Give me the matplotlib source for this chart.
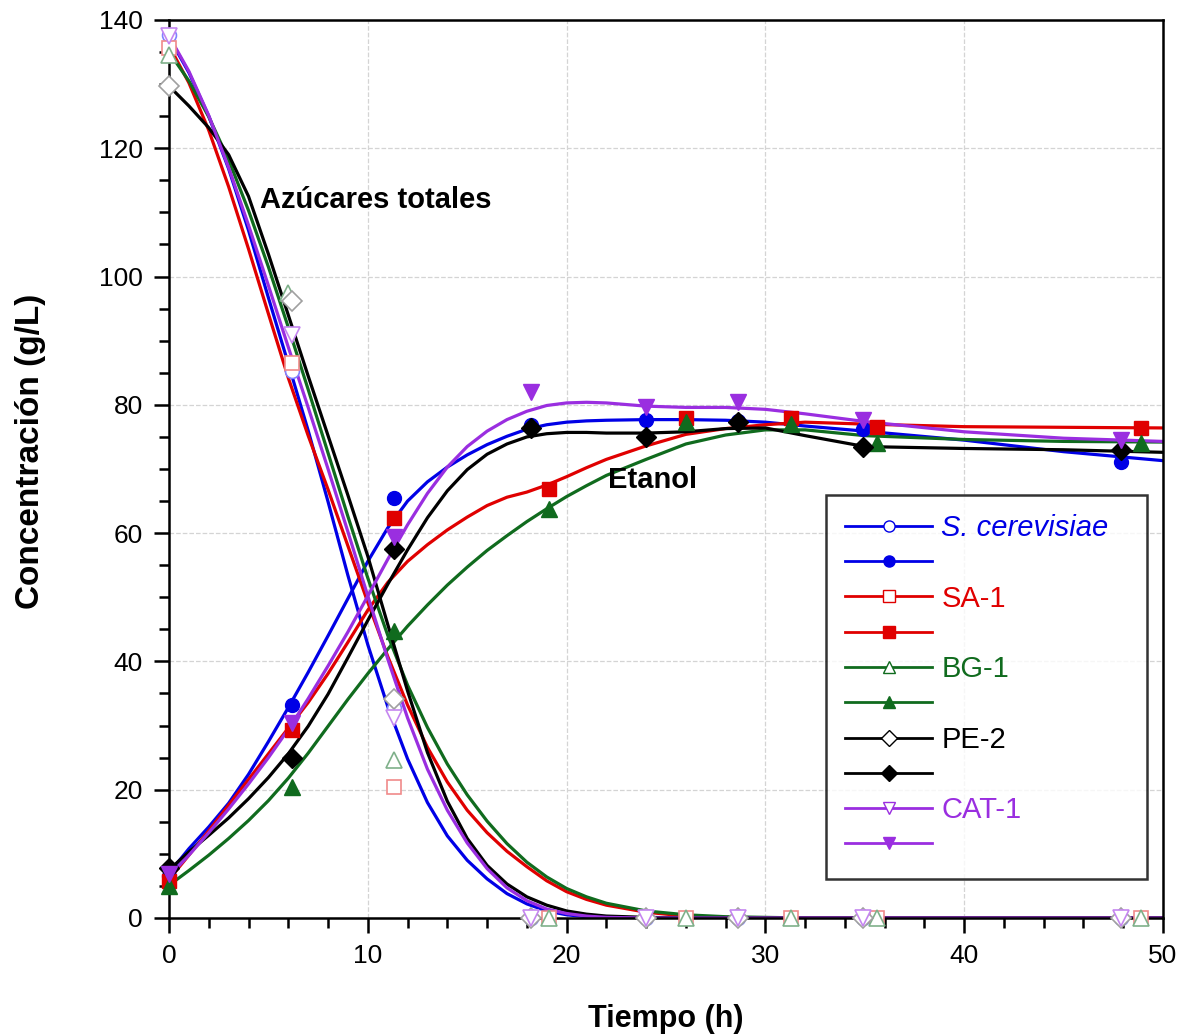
import matplotlib
matplotlib.use("Agg")
import matplotlib.pyplot as plt
from matplotlib.lines import Line2D
from matplotlib.ticker import MultipleLocator

plt.rcParams["font.family"] = ["Liberation Sans", "DejaVu Sans"]

# strains
strains = ["S. cerevisiae", "SA-1", "BG-1", "PE-2", "CAT-1"]

# measured points (open = total sugars, filled = ethanol)
t_a = [0, 6.2, 11.3, 18.2, 24.0, 28.6, 34.9, 47.9]   # S. cerevisiae, PE-2, CAT-1
t_b = [0, 6.2, 11.3, 19.1, 26.0, 31.3, 35.6, 48.9]   # SA-1, BG-1
t_bg_sugar = [0, 6.0, 11.3, 19.1, 26.0, 31.3, 35.6, 48.9]

sug_sc = [137.7, 85.2, 32.7, 0, 0, 0, 0, 0]
sug_sa = [135.7, 86.5, 20.4, 0, 0, 0, 0, 0]
sug_bg = [134.5, 97.4, 24.6, 0, 0, 0, 0, 0]
sug_pe = [129.7, 96.2, 34.1, 0, 0, 0, 0, 0]
sug_cat = [137.5, 90.9, 31.2, 0, 0, 0, 0, 0]

eth_sc = [6.5, 33.2, 65.5, 76.8, 77.6, 77.5, 76.2, 71.1]
eth_sa = [5.8, 29.3, 62.4, 66.9, 78.0, 78.0, 76.6, 76.4]
eth_bg = [5.0, 20.4, 44.7, 63.8, 77.3, 77.0, 74.1, 74.1]
eth_pe = [7.8, 24.9, 57.5, 76.4, 75.0, 77.3, 73.4, 73.0]
eth_cat = [6.8, 30.4, 59.4, 82.0, 79.7, 80.4, 77.6, 74.5]

# fitted model curves
t_fit = [0, 1, 2, 3, 4, 5, 6, 7, 8, 9, 10, 11, 12, 13, 14, 15, 16, 17, 18, 19,
         20, 21, 22, 24, 26, 28, 30, 32, 35, 40, 45, 50]

fit_sug_sc = [137.3, 131.8, 125.0, 116.8, 107.2, 96.7, 86.4, 76.0, 64.9, 53.4,
              42.6, 33.0, 24.8, 18.0, 12.8, 9.0, 6.1, 3.8, 2.2, 1.1,
              0.5, 0.2, 0.1, 0.0, 0.0, 0.0, 0.0, 0.0, 0.0, 0.0, 0.0, 0.0]
fit_sug_sa = [136.0, 130.2, 122.8, 114.0, 104.3, 94.2, 84.2, 75.2, 66.8, 58.0,
              49.2, 40.8, 33.2, 26.6, 21.2, 16.8, 13.3, 10.4, 8.0, 5.8,
              4.1, 2.9, 2.0, 0.9, 0.3, 0.1, 0.0, 0.0, 0.0, 0.0, 0.0, 0.0]
fit_sug_bg = [135.0, 130.5, 124.9, 118.2, 110.3, 101.5, 92.1, 82.4, 72.5, 62.6,
              53.0, 44.1, 36.3, 29.7, 24.0, 19.2, 15.1, 11.6, 8.7, 6.4,
              4.6, 3.3, 2.3, 1.1, 0.5, 0.2, 0.1, 0.0, 0.0, 0.0, 0.0, 0.0]
fit_sug_pe = [129.7, 126.6, 123.2, 119.0, 112.5, 103.5, 94.0, 84.5, 75.2, 65.9,
              56.4, 45.8, 35.4, 25.8, 18.2, 12.4, 8.2, 5.3, 3.3, 2.0,
              1.1, 0.6, 0.3, 0.1, 0.0, 0.0, 0.0, 0.0, 0.0, 0.0, 0.0, 0.0]
fit_sug_cat = [137.5, 132.0, 125.1, 117.0, 108.0, 98.6, 89.0, 79.6, 70.0, 60.2,
               50.2, 40.4, 31.2, 23.2, 16.8, 11.7, 7.7, 4.7, 2.7, 1.4,
               0.7, 0.3, 0.1, 0.0, 0.0, 0.0, 0.0, 0.0, 0.0, 0.0, 0.0, 0.0]

fit_eth_sc = [7.0, 10.8, 14.2, 17.9, 22.4, 27.5, 32.8, 38.3, 44.0, 49.8,
              55.6, 60.8, 65.0, 68.0, 70.3, 72.2, 73.8, 75.1, 76.2, 76.9,
              77.3, 77.5, 77.6, 77.7, 77.7, 77.6, 77.3, 76.7, 75.9, 74.5, 72.7, 71.3]
fit_eth_sa = [6.0, 9.8, 13.6, 17.6, 21.6, 25.6, 29.6, 33.6, 38.1, 43.0,
              48.0, 52.3, 55.6, 58.2, 60.5, 62.5, 64.3, 65.6, 66.4, 67.5,
              68.8, 70.2, 71.5, 73.6, 75.4, 76.3, 76.9, 77.3, 77.0, 76.6, 76.5, 76.4]
fit_eth_bg = [5.1, 7.4, 9.8, 12.4, 15.2, 18.3, 21.8, 25.7, 29.9, 34.1,
              38.1, 41.9, 45.5, 48.8, 51.9, 54.7, 57.3, 59.6, 61.8, 63.8,
              65.7, 67.4, 69.0, 71.5, 73.9, 75.3, 76.1, 76.1, 75.2, 74.6, 74.3, 74.2]
fit_eth_pe = [7.5, 10.3, 12.9, 15.6, 18.6, 21.9, 25.6, 29.9, 34.9, 40.6,
              46.4, 52.0, 57.4, 62.4, 66.6, 69.9, 72.3, 73.9, 75.0, 75.5,
              75.7, 75.7, 75.6, 75.6, 75.8, 76.3, 76.4, 75.2, 73.5, 73.2, 73.0, 72.6]
fit_eth_cat = [6.5, 9.8, 13.3, 17.0, 20.9, 25.0, 29.4, 34.2, 39.3, 44.6,
               50.2, 55.9, 61.3, 66.2, 70.3, 73.5, 75.9, 77.7, 79.0, 79.9,
               80.3, 80.4, 80.3, 79.8, 79.6, 79.6, 79.3, 78.6, 77.4, 75.8, 74.8, 74.3]

colors = ["#0000e6", "#e00000", "#106b1e", "#000000", "#9a2ee0"]
open_edges = ["#8080ff", "#f08a8a", "#7fb08a", "#a0a0a0", "#c586f0"]
markers = ["o", "s", "^", "D", "v"]
sizes = [10, 10, 11, 10, 11]

sugar_t = [t_a, t_b, t_bg_sugar, t_a, t_a]
eth_t = [t_a, t_b, t_b, t_a, t_a]
sugar_pts = [sug_sc, sug_sa, sug_bg, sug_pe, sug_cat]
eth_pts = [eth_sc, eth_sa, eth_bg, eth_pe, eth_cat]
sugar_fit = [fit_sug_sc, fit_sug_sa, fit_sug_bg, fit_sug_pe, fit_sug_cat]
eth_fit = [fit_eth_sc, fit_eth_sa, fit_eth_bg, fit_eth_pe, fit_eth_cat]

fig = plt.figure(figsize=(11.77, 10.36), dpi=100)
ax = fig.add_axes([0.1436, 0.1139, 0.8445, 0.8668])

for i in range(5):
    ax.plot(t_fit, sugar_fit[i], color=colors[i], lw=2.3, zorder=2)
    ax.plot(t_fit, eth_fit[i], color=colors[i], lw=2.3, zorder=2)
for i in range(5):
    ax.plot(sugar_t[i], sugar_pts[i], ls="none", marker=markers[i],
            ms=sizes[i], mfc="white", mec=open_edges[i], mew=1.2,
            clip_on=False, zorder=3)
for i in range(5):
    ax.plot(eth_t[i], eth_pts[i], ls="none", marker=markers[i],
            ms=sizes[i], mfc=colors[i], mec=colors[i], mew=1,
            clip_on=False, zorder=4)

ax.set_xlim(0, 50)
ax.set_ylim(0, 140)
ax.xaxis.set_major_locator(MultipleLocator(10))
ax.xaxis.set_minor_locator(MultipleLocator(2))
ax.yaxis.set_major_locator(MultipleLocator(20))
ax.yaxis.set_minor_locator(MultipleLocator(5))
ax.tick_params(which="major", length=11, width=1.8, labelsize=19, pad=8)
ax.tick_params(which="minor", length=7, width=1.8)
for sp in ax.spines.values():
    sp.set_linewidth(1.8)
ax.grid(which="major", color="#d4d4d4", ls="--", lw=0.9, zorder=0)

ax.set_xlabel("Tiempo (h)", fontsize=22, fontweight="bold", labelpad=26)
ax.set_ylabel("Concentración (g/L)", fontsize=24, fontweight="bold")
ax.yaxis.set_label_coords(-0.124, 0.52)

ax.text(4.6, 112, "Azúcares totales", fontsize=21, fontweight="bold",
        va="center", ha="left")
ax.text(22.1, 68.3, "Etanol", fontsize=21, fontweight="bold",
        va="center", ha="left")

handles, labels = [], []
for i in range(5):
    handles.append(Line2D([], [], color=colors[i], lw=2, marker=markers[i],
                          ms=sizes[i] * 0.8, mfc="white", mec=colors[i], mew=1))
    labels.append(strains[i])
    handles.append(Line2D([], [], color=colors[i], lw=2, marker=markers[i],
                          ms=sizes[i] * 0.8, mfc=colors[i], mec=colors[i]))
    labels.append(" ")
leg = ax.legend(handles, labels, loc="upper left",
                bbox_to_anchor=(0.661, 0.048, 0.323, 0.423), mode="expand",
                fontsize=21, frameon=True, fancybox=False, edgecolor="black",
                handlelength=3.0, handletextpad=0.3, labelspacing=0.25,
                borderpad=0.65, borderaxespad=0)
leg.get_frame().set_linewidth(1.8)
leg.set_zorder(5)
for i, txt in enumerate(leg.get_texts()):
    txt.set_color(colors[i // 2])
leg.get_texts()[0].set_style("italic")

fig.savefig("out.png", dpi=100)
